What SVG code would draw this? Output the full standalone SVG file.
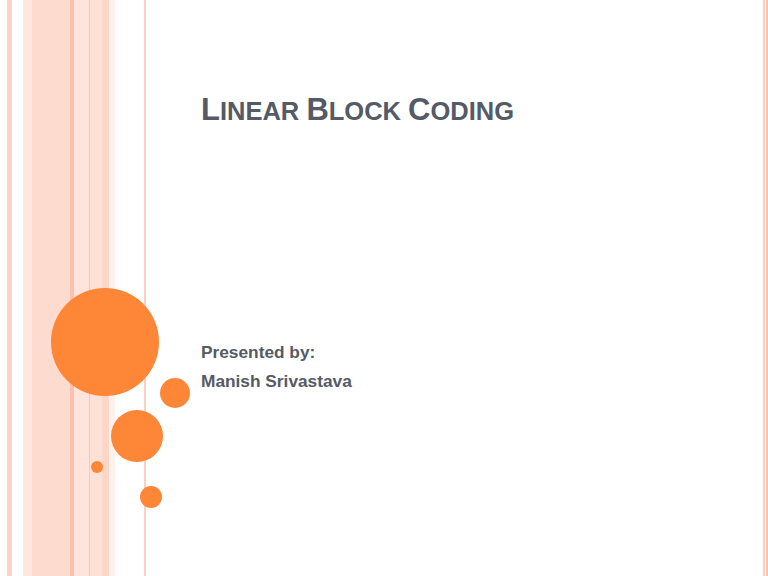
<svg xmlns="http://www.w3.org/2000/svg" width="768" height="576" viewBox="0 0 768 576">
<style>.t{font-family:"Liberation Sans",Arial,sans-serif;font-weight:bold;fill:#545a66}.c{fill:#fe8637}</style>
<rect width="768" height="576" fill="#fff"/>
<g id="stripes">
<rect x="7" y="0" width="5" height="576" fill="#fcd3c4"/>
<rect x="23" y="0" width="9" height="576" fill="#fee9e1"/>
<rect x="32" y="0" width="38" height="576" fill="#fedbcf"/>
<rect x="70" y="0" width="4" height="576" fill="#fbc1ad"/>
<rect x="74" y="0" width="15" height="576" fill="#fee4da"/>
<rect x="89" y="0" width="1" height="576" fill="#f9c9b7"/>
<rect x="90" y="0" width="12" height="576" fill="#fde1d6"/>
<rect x="102" y="0" width="7" height="576" fill="#fed6c8"/>
<rect x="109" y="0" width="6" height="576" fill="#fff1ec"/>
<rect x="144" y="0" width="2" height="576" fill="#fbd0c0"/>
<rect x="763" y="0" width="2" height="576" fill="#fbd0c0"/>
<rect x="766" y="0" width="2" height="576" fill="#fcc3ae"/>
</g>
<g id="circles">
<circle class="c" cx="105" cy="342" r="54"/>
<circle class="c" cx="175" cy="393" r="15"/>
<circle class="c" cx="137" cy="436" r="26"/>
<circle class="c" cx="97" cy="467" r="6"/>
<circle class="c" cx="151" cy="497" r="11"/>
</g>
<g id="title"><text class="t" x="201" y="120" font-size="31">L<tspan font-size="25.5">INEAR </tspan>B<tspan font-size="25.5">LOCK </tspan>C<tspan font-size="25.5">ODING</tspan></text></g>
<g id="subtitle">
<text class="t" x="201" y="358" font-size="17.3">Presented by:</text>
<text class="t" x="201" y="387" font-size="17.3">Manish Srivastava</text>
</g>
</svg>
